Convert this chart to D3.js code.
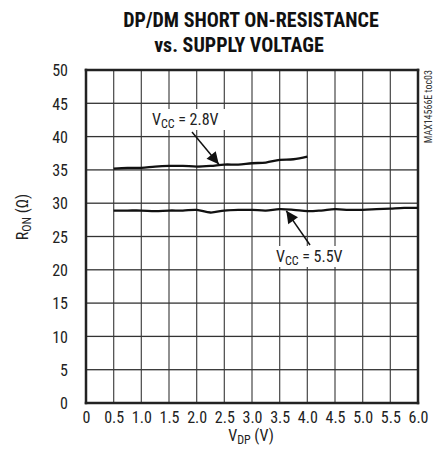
<!DOCTYPE html>
<html><head><meta charset="utf-8">
<script src="https://cdn.jsdelivr.net/npm/d3@7"></script>
<style>
body{margin:0;background:#fff;}
text{font-family:"Liberation Sans Narrow","Roboto Condensed","Liberation Sans",Arial,sans-serif;}
</style>
</head><body>
<svg id="c" width="440" height="463"></svg>
<script>
const xTicks = [0,0.5,1.0,1.5,2.0,2.5,3.0,3.5,4.0,4.5,5.0,5.5,6.0];
const yTicks = [0,5,10,15,20,25,30,35,40,45,50];
const vdp28 = [0.5,0.75,1.0,1.25,1.5,1.75,2.0,2.25,2.5,2.75,3.0,3.25,3.5,3.75,4.0];
const ron28 = [35.2,35.3,35.3,35.5,35.6,35.6,35.5,35.6,35.8,35.8,36.0,36.1,36.5,36.6,37.0];
const vdp55 = [0.5,0.75,1.0,1.25,1.5,1.75,2.0,2.25,2.5,2.75,3.0,3.25,3.5,3.75,4.0,4.25,4.5,4.75,5.0,5.25,5.5,5.75,6.0];
const ron55 = [28.9,28.9,28.9,28.8,28.9,28.9,29.0,28.6,28.9,29.0,29.0,28.9,29.1,29.0,28.8,28.9,29.1,29.0,29.0,29.1,29.2,29.3,29.3];

const svg = d3.select("#c");
const L=86,R=418,T=70,B=403;
const x = d3.scaleLinear().domain([0,6]).range([L,R]);
const y = d3.scaleLinear().domain([0,50]).range([B,T]);

// title
svg.append("text").attr("x",251).attr("y",27).attr("text-anchor","middle")
  .attr("font-size",20).attr("font-weight","bold").attr("fill","#111").text("DP/DM SHORT ON-RESISTANCE");
svg.append("text").attr("x",239).attr("y",52).attr("text-anchor","middle")
  .attr("font-size",20).attr("font-weight","bold").attr("fill","#111").text("vs. SUPPLY VOLTAGE");

// vertical grid as thin filled rects
svg.append("g").selectAll("rect").data(xTicks.slice(1,-1)).join("rect")
  .attr("x",d=>x(d)-0.65).attr("width",1.3).attr("y",T).attr("height",B-T)
  .attr("fill","#555");
// horizontal grid as per-cell segments
const segs = [];
yTicks.slice(1,-1).forEach(v => {
  for (let i = 0; i < xTicks.length-1; i++) segs.push([xTicks[i], xTicks[i+1], v]);
});
svg.append("g").selectAll("line").data(segs).join("line")
  .attr("x1",d=>x(d[0])).attr("x2",d=>x(d[1])).attr("y1",d=>y(d[2])).attr("y2",d=>y(d[2]))
  .attr("stroke","#333").attr("stroke-width",1.3);

// axes labels
const xa = svg.append("g").attr("transform",`translate(0,${B})`)
  .call(d3.axisBottom(x).tickValues(xTicks).tickSize(0).tickPadding(20)
  .tickFormat(d=>d===0?"0":d3.format(".1f")(d)));
xa.select(".domain").remove();
xa.selectAll("text").attr("font-size",16).attr("fill","#222").attr("dy",0).attr("y",20);
const ya = svg.append("g").attr("transform",`translate(${L},0)`)
  .call(d3.axisLeft(y).tickValues(yTicks).tickSize(0).tickPadding(18).tickFormat(d3.format("d")));
ya.select(".domain").remove();
ya.selectAll("text").attr("font-size",16).attr("fill","#222").attr("dy","0.36em");

// frame as lines
const fr = [[L,T,R,T],[R,T,R,B],[R,B,L,B],[L,B,L,T]];
svg.append("g").selectAll("line").data(fr).join("line")
  .attr("x1",d=>d[0]).attr("y1",d=>d[1]).attr("x2",d=>d[2]).attr("y2",d=>d[3])
  .attr("stroke","#222").attr("stroke-width",2.5).attr("stroke-linecap","square");

// curves
const line = d3.line().x(d=>x(d[0])).y(d=>y(d[1])).curve(d3.curveCatmullRom);
svg.append("path").datum(vdp28.map((v,i)=>[v,ron28[i]])).attr("d",line)
  .attr("fill","none").attr("stroke","#111").attr("stroke-width",2.3);
svg.append("path").datum(vdp55.map((v,i)=>[v,ron55[i]])).attr("d",line)
  .attr("fill","none").attr("stroke","#111").attr("stroke-width",2.3);

// arrowhead marker
const defs = svg.append("defs");
defs.append("marker").attr("id","ah").attr("viewBox","0 0 10 10").attr("refX",10).attr("refY",5)
  .attr("markerWidth",14).attr("markerHeight",12).attr("markerUnits","userSpaceOnUse").attr("orient","auto")
  .append("path").attr("d","M0,0 L10,5 L0,10 z").attr("fill","#111");

function label(xp,yp,val){
  const t = svg.append("text").attr("x",xp).attr("y",yp).attr("font-size",16).attr("fill","#222");
  t.append("tspan").text("V");
  t.append("tspan").attr("font-size",12).attr("dy",3).text("CC");
  t.append("tspan").attr("dy",-3).text(" = "+val);
  return t;
}
svg.append("rect").attr("x",149).attr("y",109).attr("width",78).attr("height",21).attr("fill","#fff");
svg.append("rect").attr("x",273).attr("y",246).attr("width",79).attr("height",21).attr("fill","#fff");
label(152,125,"2.8V");
label(276,262,"5.5V");
svg.append("line").attr("x1",192).attr("y1",132).attr("x2",x(2.4)).attr("y2",y(35.7)-1)
  .attr("stroke","#111").attr("stroke-width",1.5).attr("marker-end","url(#ah)");
svg.append("line").attr("x1",310).attr("y1",245).attr("x2",x(3.62)).attr("y2",y(29.0)+1)
  .attr("stroke","#111").attr("stroke-width",1.5).attr("marker-end","url(#ah)");

// y label
const yl = svg.append("text").attr("transform","translate(28,217) rotate(-90)").attr("text-anchor","middle")
  .attr("font-size",16).attr("fill","#222");
yl.append("tspan").text("R");
yl.append("tspan").attr("font-size",12).attr("dy",3).text("ON");
yl.append("tspan").attr("dy",-3).text(" (Ω)");
// x label
const xl = svg.append("text").attr("x",251).attr("y",441).attr("text-anchor","middle")
  .attr("font-size",16).attr("fill","#222");
xl.append("tspan").text("V");
xl.append("tspan").attr("font-size",12).attr("dy",3).text("DP");
xl.append("tspan").attr("dy",-3).text(" (V)");

// watermark
svg.append("text").attr("transform","translate(432,70) rotate(-90)").attr("text-anchor","end")
  .attr("font-size",10).attr("fill","#333").text("MAX14566E toc03");
</script>
</body></html>
